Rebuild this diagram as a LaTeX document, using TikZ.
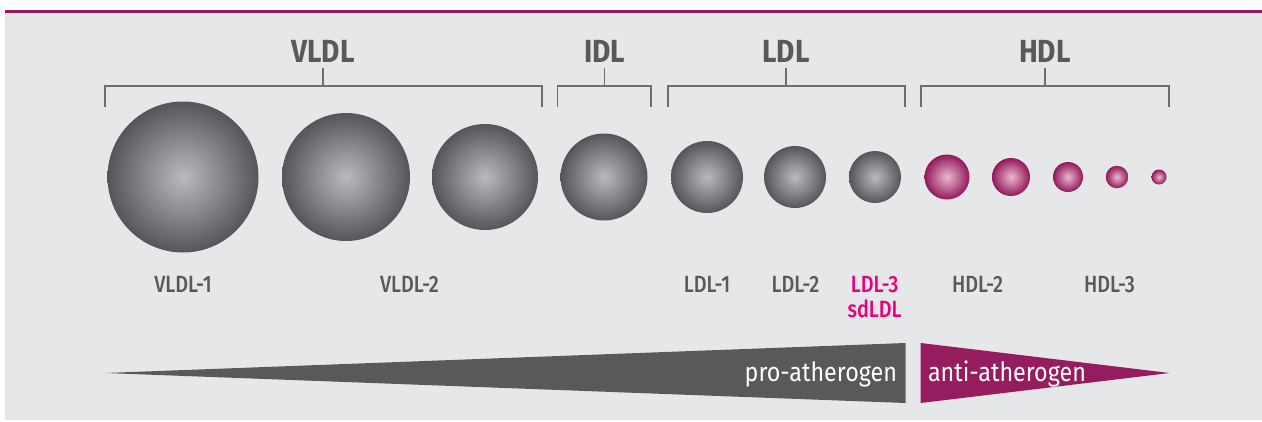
\documentclass[tikz,border=0pt]{standalone}
\usepackage{fontspec}
\setmainfont{Fira Sans}[FakeStretch=0.88]
\newfontfamily\medfont{Fira Sans Medium}[FakeStretch=0.84]
\definecolor{bgGrey}{HTML}{E6E7E9}
\definecolor{txtGrey}{HTML}{58595B}
\definecolor{lineGrey}{HTML}{6D6E71}
\definecolor{wine}{HTML}{951C5F}
\definecolor{hotPink}{HTML}{E6007E}
\definecolor{sphDark}{HTML}{55565A}
\definecolor{sphLight}{HTML}{B9BABE}
\definecolor{hdlDark}{HTML}{92185B}
\definecolor{hdlLight}{HTML}{EAB9CD}
\tikzset{
  every node/.style={inner sep=0pt, outer sep=0pt},
  lipo/.style={circle, minimum size=#1, shading=radial, inner color=sphLight, outer color=sphDark},
  hdl/.style={circle, minimum size=#1, shading=radial, inner color=hdlLight, outer color=hdlDark},
  classlbl/.style={font=\bfseries\fontsize{32}{32}\selectfont, text=txtGrey, anchor=base},
  sublbl/.style={font=\medfont\fontsize{23.5}{23.5}\selectfont, text=txtGrey, anchor=base},
  bracket/.style={draw=lineGrey, line width=1.4pt},
  wedgetxt/.style={font=\fontsize{26.5}{26.5}\selectfont, text=white, anchor=base},
}
\begin{document}
\begin{tikzpicture}[x=1pt, y=-1pt]
\useasboundingbox (0,0) rectangle (1262,421);
% panel and top rule
\fill[bgGrey] (5,12) rectangle (1262,420);
\fill[wine] (5,9.5) rectangle (1262,12.5);

% particles
\node[lipo=151pt] (v1) at (183,177) {};
\node[lipo=128pt] (v2) at (346,177) {};
\node[lipo=106pt] (v3) at (485,177) {};
\node[lipo=87pt]  (i1) at (604,177) {};
\node[lipo=72pt]  (l1) at (707,177) {};
\node[lipo=62pt]  (l2) at (795,177) {};
\node[lipo=52pt]  (l3) at (875,177) {};
\node[hdl=45pt]   (h1) at (947,177) {};
\node[hdl=38pt]   (h2) at (1011,177) {};
\node[hdl=30pt]   (h3) at (1068,177) {};
\node[hdl=22.5pt] (h4) at (1117,177) {};
\node[hdl=15pt]   (h5) at (1159,177) {};

% class headings
\node[classlbl] (tV) at (323,62) {VLDL};
\node[classlbl] (tI) at (604.7,62) {IDL};
\node[classlbl] (tL) at (786,62) {LDL};
\node[classlbl] (tH) at (1045,62) {HDL};

% brackets
\coordinate (bVl) at (105,107); \coordinate (bVr) at (542,107);
\coordinate (bIl) at (557.7,107); \coordinate (bIr) at (651,107);
\coordinate (bLl) at (668,107); \coordinate (bLr) at (905,107);
\coordinate (bHl) at (921,107); \coordinate (bHr) at (1169,107);
\draw[bracket] (bVl) |- (bVr |- 0,86) -- (bVr);
\draw[bracket] (323,86) -- (323,67.5);
\draw[bracket] (bIl) |- (bIr |- 0,86) -- (bIr);
\draw[bracket] (604.7,86) -- (604.7,67.5);
\draw[bracket] (bLl) |- (bLr |- 0,86) -- (bLr);
\draw[bracket] (786,86) -- (786,67.5);
\draw[bracket] (bHl) |- (bHr |- 0,86) -- (bHr);
\draw[bracket] (1045,86) -- (1045,67.5);

% subclass labels
\node[sublbl] (sV1) at (183,292) {VLDL-1};
\node[sublbl] (sV2) at (409.5,292) {VLDL-2};
\node[sublbl] (sL1) at (707,292) {LDL-1};
\node[sublbl] (sL2) at (795.5,292) {LDL-2};
\node[sublbl, text=hotPink] (sL3) at (874.6,292) {LDL-3};
\node[sublbl, text=hotPink] (sSd) at (874.6,317) {sdLDL};
\node[sublbl] (sH2) at (977.6,292) {HDL-2};
\node[sublbl] (sH3) at (1109.5,292) {HDL-3};

% atherogenicity wedges
\coordinate (proTip) at (105,373);
\coordinate (antiTip) at (1169.5,373);
\fill[txtGrey] (proTip) -- (905.5,343) -- (905.5,403) -- cycle;
\fill[wine] (920.7,343) -- (920.7,403) -- (antiTip) -- cycle;
\node[wedgetxt, anchor=base east] (pro) at (897,381) {pro-atherogen};
\node[wedgetxt, anchor=base west] (anti) at (928,381) {anti-atherogen};
\end{tikzpicture}
\end{document}
